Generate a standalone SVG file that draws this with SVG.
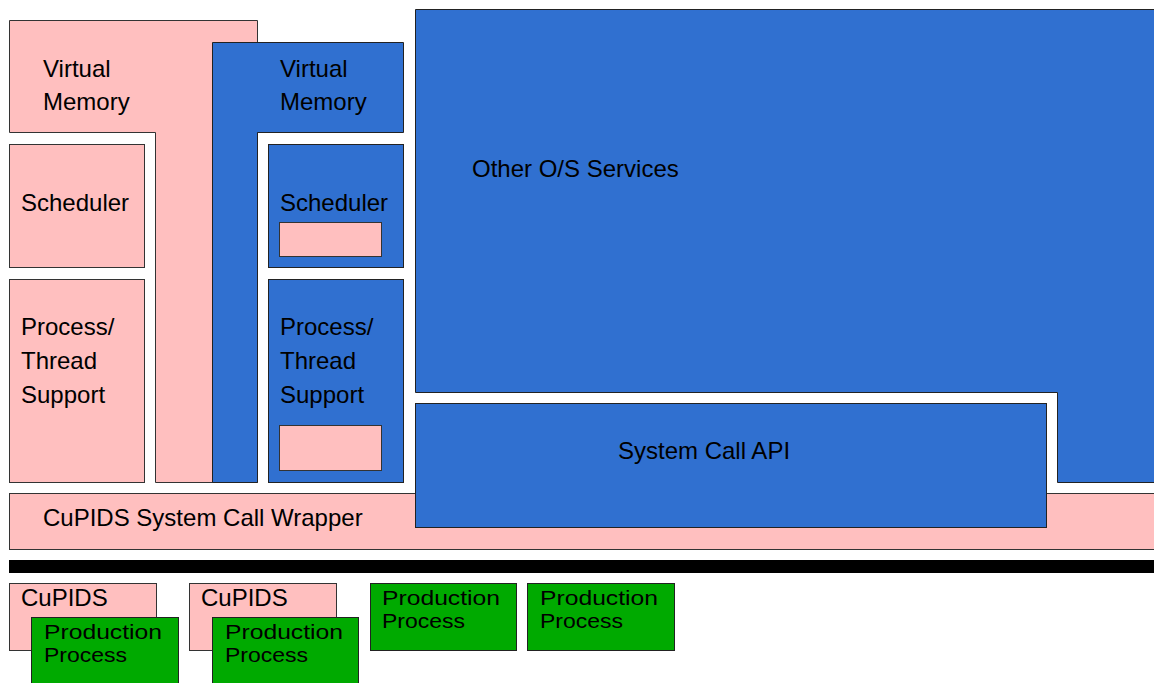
<svg xmlns="http://www.w3.org/2000/svg" width="1154" height="683" viewBox="0 0 1154 683">
<style>
.p{fill:#FFBFBF;stroke:#333;stroke-width:1}
.b{fill:#3070D0;stroke:#222;stroke-width:1}
.g{fill:#00AA00;stroke:#222;stroke-width:1}
text{font-family:"Liberation Sans",Arial,sans-serif;font-size:24px;fill:#000}
text.s{font-size:20px}
</style>
<rect width="1154" height="683" fill="#fff"/>
<g id="vm-pink"><path class="p" d="M9.5,20.5H257.5V482.5H155.5V132.5H9.5Z"/><text x="43" y="77">Virtual</text><text x="43" y="110">Memory</text></g>
<g id="vm-blue"><path class="b" d="M212.5,42.5H403.5V132.5H257.5V482.5H212.5Z"/><text x="280" y="77">Virtual</text><text x="280" y="110">Memory</text></g>
<g id="sched-pink"><rect class="p" x="9.5" y="144.5" width="135" height="123"/><text x="21" y="211">Scheduler</text></g>
<g id="proc-pink"><rect class="p" x="9.5" y="279.5" width="135" height="203"/><text x="21" y="335">Process/</text><text x="21" y="369">Thread</text><text x="21" y="403">Support</text></g>
<g id="sched-blue"><rect class="b" x="268.5" y="144.5" width="135" height="123"/><text x="280" y="211">Scheduler</text><rect class="p" x="279.5" y="222.5" width="102" height="34"/></g>
<g id="proc-blue"><rect class="b" x="268.5" y="279.5" width="135" height="203"/><text x="280" y="335">Process/</text><text x="280" y="369">Thread</text><text x="280" y="403">Support</text><rect class="p" x="279.5" y="425.5" width="102" height="45"/></g>
<g id="other-os"><path class="b" d="M415.5,9.5H1160V482.5H1057.5V392.5H415.5Z"/><text x="472" y="177">Other O/S Services</text></g>
<g id="wrapper"><rect class="p" x="9.5" y="493.5" width="1150" height="56"/><text x="43" y="526">CuPIDS System Call Wrapper</text></g>
<g id="syscall-api"><rect class="b" x="415.5" y="403.5" width="631" height="124"/><text x="618" y="459">System Call API</text></g>
<g id="bar"><rect x="9" y="560" width="1150" height="13" fill="#000"/></g>
<g id="cupids1"><rect class="p" x="9.5" y="583.5" width="147" height="67"/><text x="21" y="606">CuPIDS</text></g>
<g id="prod1"><rect class="g" x="31.5" y="617.5" width="147" height="67"/><text class="s" x="44" y="639" textLength="118" lengthAdjust="spacingAndGlyphs">Production</text><text class="s" x="44" y="662" textLength="83" lengthAdjust="spacingAndGlyphs">Process</text></g>
<g id="cupids2"><rect class="p" x="189.5" y="583.5" width="147" height="67"/><text x="201" y="606">CuPIDS</text></g>
<g id="prod2"><rect class="g" x="212.5" y="617.5" width="146" height="67"/><text class="s" x="225" y="639" textLength="118" lengthAdjust="spacingAndGlyphs">Production</text><text class="s" x="225" y="662" textLength="83" lengthAdjust="spacingAndGlyphs">Process</text></g>
<g id="prod3"><rect class="g" x="370.5" y="583.5" width="146" height="67"/><text class="s" x="382" y="605" textLength="118" lengthAdjust="spacingAndGlyphs">Production</text><text class="s" x="382" y="628" textLength="83" lengthAdjust="spacingAndGlyphs">Process</text></g>
<g id="prod4"><rect class="g" x="527.5" y="583.5" width="147" height="67"/><text class="s" x="540" y="605" textLength="118" lengthAdjust="spacingAndGlyphs">Production</text><text class="s" x="540" y="628" textLength="83" lengthAdjust="spacingAndGlyphs">Process</text></g>
<g id="connectors"/>
</svg>
